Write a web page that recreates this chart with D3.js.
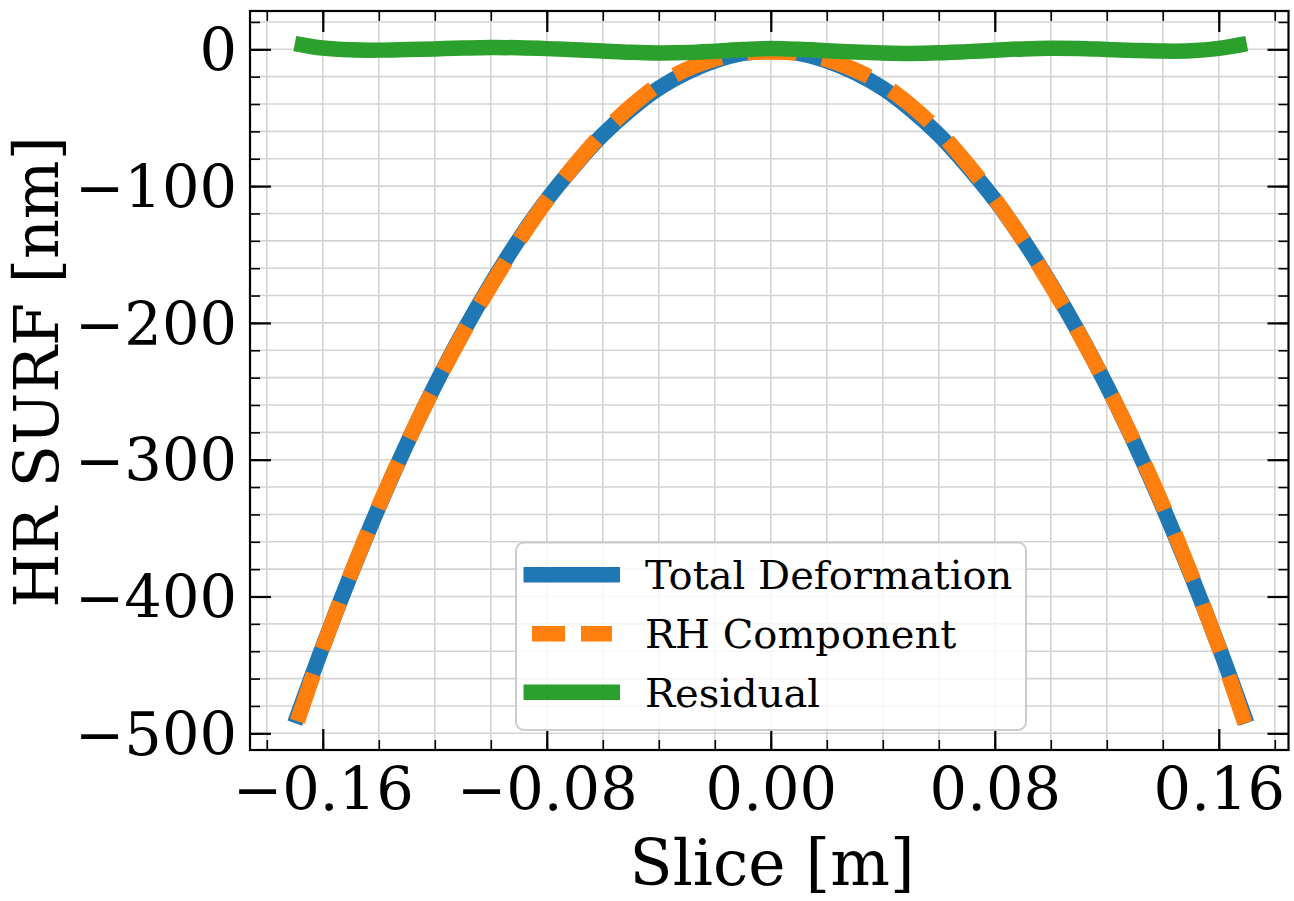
<!DOCTYPE html>
<html>
<head>
<meta charset="utf-8">
<script src="https://cdn.jsdelivr.net/npm/d3@7"></script>
<style>
  html, body { margin: 0; padding: 0; background: #ffffff; }
  svg { display: block; }
  text { font-family: "DejaVu Serif", "Liberation Serif", serif; fill: #000; }
</style>
</head>
<body>
<svg id="chart" width="1294" height="901"></svg>
<script>
// ---------------- data ----------------
const sliceX = [-0.17, -0.16, -0.15, -0.14, -0.13, -0.12, -0.11, -0.10, -0.09, -0.08, -0.07, -0.06,
  -0.05, -0.04, -0.03, -0.02, -0.01, 0.00, 0.01, 0.02, 0.03, 0.04, 0.05, 0.06, 0.07, 0.08,
  0.09, 0.10, 0.11, 0.12, 0.13, 0.14, 0.15, 0.16, 0.17];
const totalDeformation = [-492.5, -436.5, -384.0, -334.5, -288.5, -246.0, -207.0, -171.5, -139.0, -110.0,
  -85.0, -62.5, -44.0, -28.5, -17.0, -8.5, -3.0, -1.5, -3.0, -8.5, -17.0, -28.5, -44.0, -62.5,
  -85.0, -110.0, -139.0, -171.5, -207.0, -246.0, -288.5, -334.5, -384.0, -436.5, -492.5];
const rhComponent = [-496.7, -437.4, -383.6, -333.9, -288.3, -246.3, -207.9, -172.8, -140.1, -110.5,
  -84.6, -61.2, -41.8, -25.8, -14.6, -7.1, -2.8, -2.0, -3.0, -7.5, -15.0, -25.8, -41.0, -59.9,
  -83.3, -109.3, -139.3, -172.3, -207.6, -245.9, -287.7, -333.2, -382.9, -437.2, -496.7];
const residual = [4.2, 0.9, -0.4, -0.6, -0.2, 0.3, 0.9, 1.3, 1.1, 0.5, -0.4, -1.3, -2.2, -2.7, -2.4,
  -1.4, -0.2, 0.5, 0.0, -1.0, -2.0, -2.7, -3.0, -2.6, -1.7, -0.7, 0.3, 0.8, 0.6, -0.1, -0.8,
  -1.3, -1.1, 0.7, 4.2];

const seriesNames = ["Total Deformation", "RH Component", "Residual"];
const xMajorTicks = [-0.16, -0.08, 0.00, 0.08, 0.16];
const xTickLabels = ["\u22120.16", "\u22120.08", "0.00", "0.08", "0.16"];
const xMinorTicks = [-0.18, -0.16, -0.14, -0.12, -0.10, -0.08, -0.06, -0.04, -0.02, 0.00,
  0.02, 0.04, 0.06, 0.08, 0.10, 0.12, 0.14, 0.16, 0.18];
const yMajorTicks = [0, -100, -200, -300, -400, -500];
const yTickLabels = ["0", "\u2212100", "\u2212200", "\u2212300", "\u2212400", "\u2212500"];
const yMinorTicks = [20, 0, -20, -40, -60, -80, -100, -120, -140, -160, -180, -200, -220, -240,
  -260, -280, -300, -320, -340, -360, -380, -400, -420, -440, -460, -480, -500];
const xLabel = "Slice [m]";
const yLabel = "HR SURF [nm]";

// ---------------- layout ----------------
const plot = { left: 250, right: 1288.5, top: 11, bottom: 750 };
const colors = ["#1f77b4", "#ff7f0e", "#2ca02c"];
const lineW = 15.5;
const tickFont = 59, labelFont = 62, legendFont = 40;

const svg = d3.select("#chart");
const x = d3.scaleLinear().domain([-0.186, 0.1849]).range([plot.left, plot.right]);
const y = d3.scaleLinear().domain([-512.2, 28]).range([plot.bottom, plot.top]);

// clip
svg.append("defs").append("clipPath").attr("id", "clip")
  .append("rect").attr("x", plot.left).attr("y", plot.top)
  .attr("width", plot.right - plot.left).attr("height", plot.bottom - plot.top);

// grid
const grid = svg.append("g").attr("stroke", "#d4d4d4").attr("stroke-width", 1.6);
grid.selectAll(".gx").data(xMinorTicks).join("line")
  .attr("x1", d => x(d)).attr("x2", d => x(d))
  .attr("y1", plot.top).attr("y2", plot.bottom);
grid.selectAll(".gy").data(yMinorTicks).join("line")
  .attr("x1", plot.left).attr("x2", plot.right)
  .attr("y1", d => y(d)).attr("y2", d => y(d));

// lines
const pts = arr => sliceX.map((v, i) => [v, arr[i]]);
const lineGen = d3.line().x(d => x(d[0])).y(d => y(d[1])).curve(d3.curveCatmullRom.alpha(0.5));
const lines = svg.append("g").attr("clip-path", "url(#clip)").attr("fill", "none")
  .attr("stroke-linecap", "butt").attr("stroke-linejoin", "round");
lines.append("path").attr("d", lineGen(pts(totalDeformation)))
  .attr("stroke", colors[0]).attr("stroke-width", lineW);
lines.append("path").attr("d", lineGen(pts(rhComponent)))
  .attr("stroke", colors[1]).attr("stroke-width", lineW)
  .attr("stroke-dasharray", "50,26").attr("stroke-dashoffset", 68);
lines.append("path").attr("d", lineGen(pts(residual)))
  .attr("stroke", colors[2]).attr("stroke-width", lineW);

// axes (ticks inward)
function styleAxis(g) {
  g.select(".domain").remove();
  g.selectAll(".tick line").attr("stroke", "#000");
  g.selectAll("text").attr("font-family", "DejaVu Serif").attr("font-size", tickFont).attr("fill", "#000");
}
const fmtX = d => xTickLabels[xMajorTicks.indexOf(d)];
const fmtY = d => yTickLabels[yMajorTicks.indexOf(d)];

// bottom
svg.append("g").attr("transform", `translate(0,${plot.bottom})`)
  .call(d3.axisBottom(x).tickValues(xMinorTicks).tickSize(-10).tickFormat(""))
  .call(styleAxis).selectAll(".tick line").attr("stroke-width", 1.6);
svg.append("g").attr("transform", `translate(0,${plot.bottom})`)
  .call(d3.axisBottom(x).tickValues(xMajorTicks).tickSize(-21).tickPadding(18).tickFormat(fmtX))
  .call(styleAxis).selectAll(".tick line").attr("stroke-width", 2.2);
// top
svg.append("g").attr("transform", `translate(0,${plot.top})`)
  .call(d3.axisTop(x).tickValues(xMinorTicks).tickSize(-10).tickFormat(""))
  .call(styleAxis).selectAll(".tick line").attr("stroke-width", 1.6);
svg.append("g").attr("transform", `translate(0,${plot.top})`)
  .call(d3.axisTop(x).tickValues(xMajorTicks).tickSize(-21).tickFormat(""))
  .call(styleAxis).selectAll(".tick line").attr("stroke-width", 2.2);
// left
svg.append("g").attr("transform", `translate(${plot.left},0)`)
  .call(d3.axisLeft(y).tickValues(yMinorTicks).tickSize(-10).tickFormat(""))
  .call(styleAxis).selectAll(".tick line").attr("stroke-width", 1.6);
const leftMajor = svg.append("g").attr("transform", `translate(${plot.left},0)`)
  .call(d3.axisLeft(y).tickValues(yMajorTicks).tickSize(-21).tickPadding(13).tickFormat(fmtY))
  .call(styleAxis);
leftMajor.selectAll(".tick line").attr("stroke-width", 2.2);
leftMajor.selectAll(".tick text").attr("dy", "0.36em");
// right
svg.append("g").attr("transform", `translate(${plot.right},0)`)
  .call(d3.axisRight(y).tickValues(yMinorTicks).tickSize(-10).tickFormat(""))
  .call(styleAxis).selectAll(".tick line").attr("stroke-width", 1.6);
svg.append("g").attr("transform", `translate(${plot.right},0)`)
  .call(d3.axisRight(y).tickValues(yMajorTicks).tickSize(-21).tickFormat(""))
  .call(styleAxis).selectAll(".tick line").attr("stroke-width", 2.2);

// spines
svg.append("rect").attr("x", plot.left).attr("y", plot.top)
  .attr("width", plot.right - plot.left).attr("height", plot.bottom - plot.top)
  .attr("fill", "none").attr("stroke", "#000").attr("stroke-width", 2.2);

// axis labels
svg.append("text").attr("x", 772).attr("y", 885).attr("text-anchor", "middle")
  .attr("font-size", 63).text(xLabel);
svg.append("text").attr("transform", "translate(58,372) rotate(-90)").attr("text-anchor", "middle")
  .attr("font-size", labelFont).text(yLabel);

// legend
const leg = svg.append("g");
leg.append("rect").attr("x", 516).attr("y", 542.5).attr("width", 510).attr("height", 187.5)
  .attr("rx", 8).attr("ry", 8)
  .attr("fill", "#ffffff").attr("fill-opacity", 0.8)
  .attr("stroke", "#cccccc").attr("stroke-width", 2);
const rowY = [574.7, 633.8, 692.3];
seriesNames.forEach((name, i) => {
  const ln = leg.append("line").attr("x1", 523.5).attr("x2", 620)
    .attr("y1", rowY[i]).attr("y2", rowY[i])
    .attr("stroke", colors[i]).attr("stroke-width", lineW).attr("stroke-linecap", "butt");
  if (i === 1) ln.attr("x1", 532).attr("x2", 612).attr("stroke-dasharray", "33,16");
  leg.append("text").attr("x", 645).attr("y", rowY[i] + 14.5)
    .attr("font-size", legendFont).text(name);
});
</script>
</body>
</html>
